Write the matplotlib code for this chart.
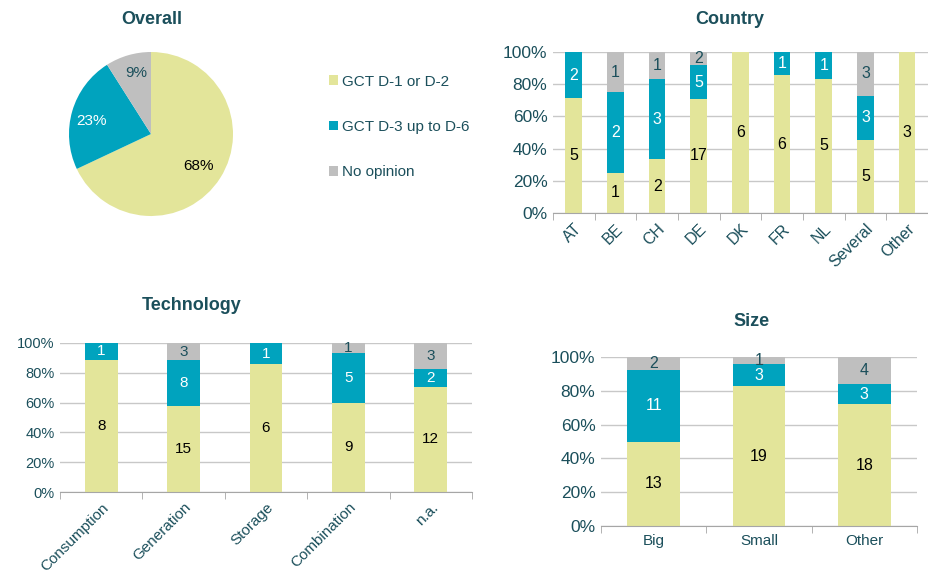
import numpy as np
import matplotlib
matplotlib.use("Agg")
import matplotlib.pyplot as plt
from matplotlib.patches import Patch
from matplotlib.ticker import PercentFormatter

plt.rcParams['font.family'] = ['Liberation Sans', 'DejaVu Sans']

series_names = ["GCT D-1 or D-2", "GCT D-3 up to D-6", "No opinion"]
colors = ["#E3E59A", "#00A3BE", "#BFBFBF"]
label_colors = ["black", "white", "#1B4F5B"]
text_color = "#1B4F5B"

overall_pct = [68, 23, 9]

country_cats = ["AT", "BE", "CH", "DE", "DK", "FR", "NL", "Several", "Other"]
country_d12 = [5, 1, 2, 17, 6, 6, 5, 5, 3]
country_d36 = [2, 2, 3, 5, 0, 1, 1, 3, 0]
country_none = [0, 1, 1, 2, 0, 0, 0, 3, 0]

tech_cats = ["Consumption", "Generation", "Storage", "Combination", "n.a."]
tech_d12 = [8, 15, 6, 9, 12]
tech_d36 = [1, 8, 1, 5, 2]
tech_none = [0, 3, 0, 1, 3]

size_cats = ["Big", "Small", "Other"]
size_d12 = [13, 19, 18]
size_d36 = [11, 3, 3]
size_none = [2, 1, 4]

W, H = 929, 570
fig = plt.figure(figsize=(W / 100, H / 100), dpi=100)


def px_axes(left, top, right, bottom):
    return fig.add_axes([left / W, 1 - bottom / H, (right - left) / W, (bottom - top) / H])


def stacked(ax, cats, counts, width, rotate, ysize, xsize, nsize):
    counts = np.array(counts, dtype=float)
    totals = counts.sum(axis=0)
    shares = counts / totals
    x = np.arange(len(cats))
    bottom = np.zeros(len(cats))
    for i in range(3):
        ax.bar(x, shares[i], width, bottom=bottom, color=colors[i], zorder=2)
        for j in range(len(cats)):
            if counts[i, j] > 0:
                ax.text(x[j], bottom[j] + shares[i, j] / 2, "%d" % counts[i, j],
                        ha="center", va="center", fontsize=nsize,
                        color=label_colors[i], zorder=3)
        bottom += shares[i]
    ax.set_xlim(-0.5, len(cats) - 0.5)
    ax.set_ylim(0, 1)
    ax.set_yticks(np.arange(0, 1.01, 0.2))
    ax.yaxis.set_major_formatter(PercentFormatter(1.0, decimals=0))
    ax.grid(axis="y", color="#C8C8C8", linewidth=1, zorder=0)
    for s in ["top", "right", "left"]:
        ax.spines[s].set_visible(False)
    ax.spines["bottom"].set_color("#A6A6A6")
    ax.set_xticks(x)
    ax.set_xticks(np.arange(-0.5, len(cats), 1), minor=True)
    ax.tick_params(axis="x", which="major", length=0, labelsize=xsize, colors=text_color, pad=6)
    ax.tick_params(axis="x", which="minor", length=5, color="#A6A6A6", direction="out")
    ax.tick_params(axis="y", length=0, labelsize=ysize, colors=text_color, pad=4)
    if rotate:
        ax.set_xticklabels(cats, rotation=45, ha="right", rotation_mode="anchor")
    else:
        ax.set_xticklabels(cats)


# Overall pie
ax_pie = px_axes(69, 52, 233, 216)
wedges, texts, autotexts = ax_pie.pie(overall_pct, colors=colors, startangle=90,
                                      counterclock=False, autopct="%d%%",
                                      textprops={"fontsize": 11})
label_pos = [(0.585, -0.39), (-0.72, 0.16), (-0.18, 0.74)]
for t, c, p in zip(autotexts, label_colors, label_pos):
    t.set_color(c)
    t.set_position(p)
ax_pie.set_xlim(-1, 1)
ax_pie.set_ylim(-1, 1)
ax_pie.set_aspect("equal")
fig.text(152 / W, 1 - 20 / H, "Overall", ha="center", va="center",
         fontsize=13, fontweight="bold", color=text_color)

handles = [Patch(facecolor=c, edgecolor="none") for c in colors]
fig.legend(handles, series_names, loc="center left", bbox_to_anchor=(315 / W, 1 - 127 / H),
           frameon=False, handlelength=0.6, handleheight=0.6, handletextpad=0.3,
           labelspacing=2.05, fontsize=11, labelcolor=text_color)

# Country
ax_c = px_axes(553, 52, 928, 213)
stacked(ax_c, country_cats, [country_d12, country_d36, country_none], 0.4, True, 12.5, 11.5, 11.5)
fig.text(730 / W, 1 - 20 / H, "Country", ha="center", va="center",
         fontsize=13, fontweight="bold", color=text_color)

# Technology
ax_t = px_axes(60, 343, 472, 492)
stacked(ax_t, tech_cats, [tech_d12, tech_d36, tech_none], 0.4, True, 10.5, 11, 11)
fig.text(192 / W, 1 - 305 / H, "Technology", ha="center", va="center",
         fontsize=13, fontweight="bold", color=text_color)

# Size
ax_s = px_axes(601, 357, 917, 526)
stacked(ax_s, size_cats, [size_d12, size_d36, size_none], 0.5, False, 12.5, 11, 11.5)
fig.text(752 / W, 1 - 322 / H, "Size", ha="center", va="center",
         fontsize=13, fontweight="bold", color=text_color)

fig.savefig("out.png", dpi=100)
